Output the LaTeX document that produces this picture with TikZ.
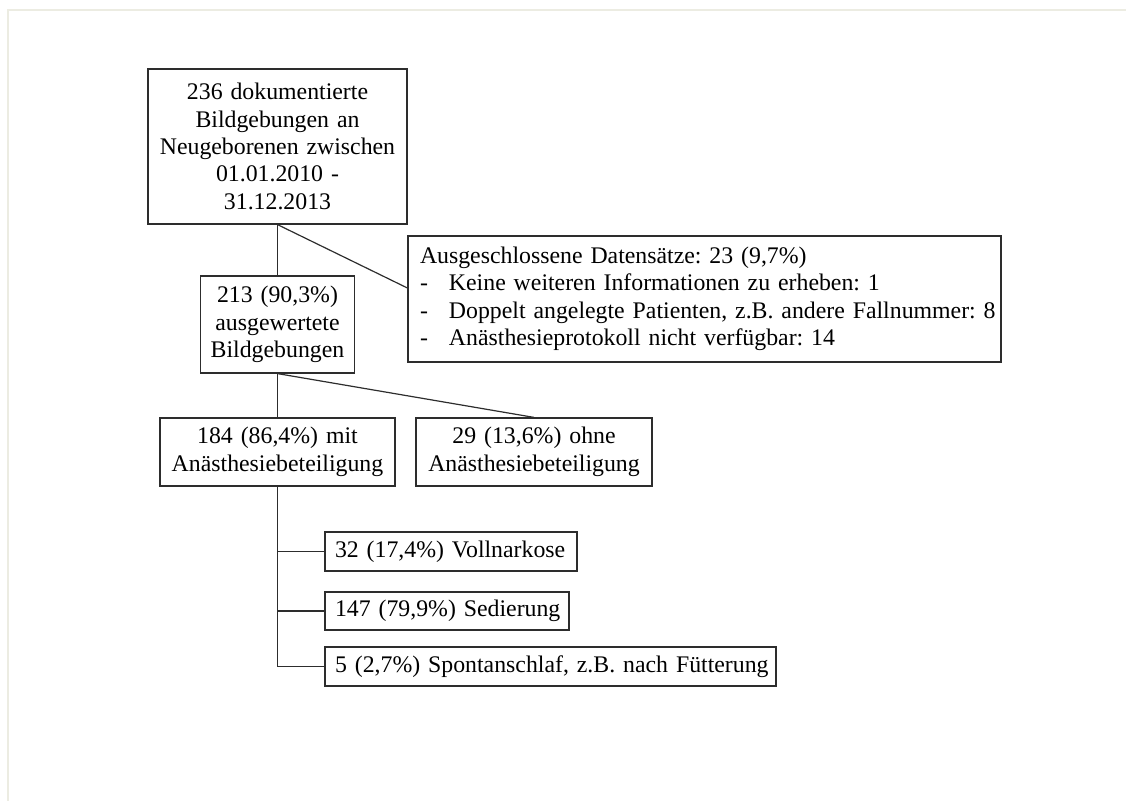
\documentclass[tikz,border=0pt]{standalone}
\usepackage{fontspec}
\setmainfont{Liberation Serif}
\frenchspacing
\definecolor{framecol}{RGB}{236,236,226}
\definecolor{linecol}{RGB}{45,45,45}
\tikzset{
  box/.style={draw=linecol, line width=0.6pt, inner ysep=0pt,
    font=\fontsize{11.9pt}{13.7pt}\selectfont\frenchspacing},
  cbox/.style={box, inner xsep=4pt, align=center},
  lbox/.style={box, inner xsep=5pt, align=left},
  link/.style={draw=linecol, line width=0.6pt}
}
\newcommand{\itemdash}{\makebox[14.5pt][l]{-}}
\begin{document}
\begin{tikzpicture}[x=0.5pt,y=-0.5pt]
\useasboundingbox (0,0) rectangle (1126,801);
% light frame of the page
\draw[framecol, line width=1pt] (8,801) -- (8,10.5) -- (1126,10.5);

\node[cbox, text width=121.5pt, minimum height=77.5pt] (A) at (277.5,146.5)
  {236 dokumentierte\\Bildgebungen an\\Neugeborenen zwischen\\01.01.2010 -\\31.12.2013};
\node[cbox, text width=69pt, minimum height=48.5pt] (B) at (277.5,324.5)
  {213 (90,3\%)\\ausgewertete\\Bildgebungen};
\node[lbox, inner xsep=6pt, text width=284.5pt, minimum height=63pt] (C) at (704.5,299)
  {\mbox{Ausgeschlossene Datensätze: 23 (9,7\%)}\\
   \mbox{\itemdash Keine weiteren Informationen zu erheben: 1}\\
   \mbox{\itemdash Doppelt angelegte Patienten, z.B. andere Fallnummer: 8}\\
   \mbox{\itemdash Anästhesieprotokoll nicht verfügbar: 14}};
\node[cbox, text width=109.5pt, minimum height=34pt] (D) at (277.5,452)
  {184 (86,4\%) mit\\Anästhesiebeteiligung};
\node[cbox, text width=110pt, minimum height=34pt] (E) at (534,452)
  {29 (13,6\%) ohne\\Anästhesiebeteiligung};
\node[lbox, text width=116pt, minimum height=19.5pt] (F) at (451,551.5)
  {\mbox{32 (17,4\%) Vollnarkose}};
\node[lbox, text width=112pt, minimum height=19pt] (G) at (447,611)
  {\mbox{147 (79,9\%) Sedierung}};
\node[lbox, text width=215.5pt, minimum height=19.5pt] (H) at (550.5,666.5)
  {\mbox{5 (2,7\%) Spontanschlaf, z.B. nach Fütterung}};

\draw[link] (A.south) -- (A.south |- B.north);
\draw[link] (A.south) -- ([yshift=5.5pt]C.west);
\draw[link] (B.south) -- (B.south |- D.north);
\draw[link] (B.south) -- (E.north);
\draw[link] (D.south) |- (H.west);
\draw[link] (D.south |- F.west) -- (F.west);
\draw[link] (D.south |- G.west) -- (G.west);
\end{tikzpicture}
\end{document}
